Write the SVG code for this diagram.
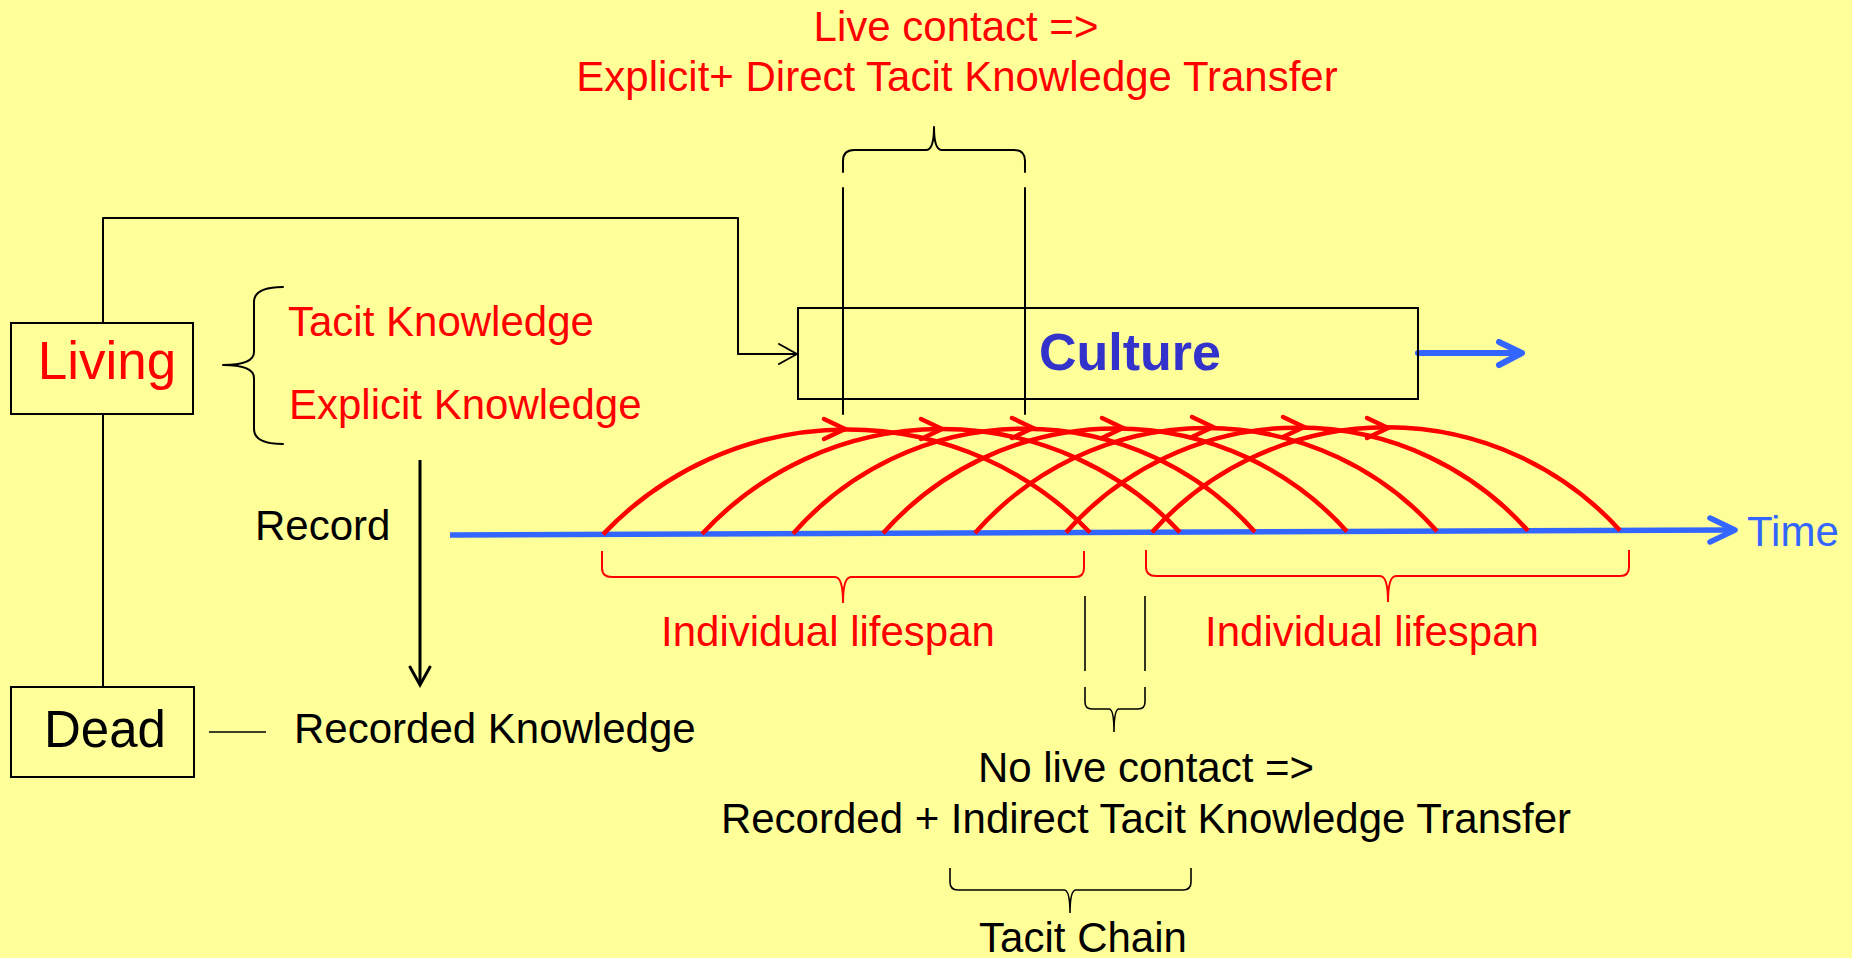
<svg xmlns="http://www.w3.org/2000/svg" xmlns:xlink="http://www.w3.org/1999/xlink" width="1852" height="958" viewBox="0 0 1852 958">
<style>
text{font-family:"Liberation Sans",Arial,sans-serif;font-size:42px}
.red{fill:#FF0000}
.blk{fill:#000000}
.box{fill:none;stroke:#000;stroke-width:2}
.ln{fill:none;stroke:#000;stroke-width:2;stroke-linecap:round;stroke-linejoin:round}
.thin{fill:none;stroke:#000;stroke-width:1.6}
.rbrace{fill:none;stroke:#FF0000;stroke-width:2}
.arc{fill:none;stroke:#FF0000;stroke-width:4.5;stroke-linecap:butt}
.chev{fill:none;stroke:#FF0000;stroke-width:4.5;stroke-linecap:round;stroke-linejoin:miter}
.blue{fill:none;stroke:#3366FF;stroke-width:6;stroke-linecap:round;stroke-linejoin:round}
</style>
<defs>
<path id="chevron" d="M-21,-10 L0,0 L-21,10"/>
</defs>
<rect x="0" y="0" width="1852" height="958" fill="#FFFF99"/>

<g id="connectors">
  <polyline class="ln" points="103,323 103,218 738,218 738,354 797,354"/>
  <polyline class="ln" points="779,344 797,354 779,364"/>
  <line class="ln" x1="103" y1="414" x2="103" y2="687"/>
  <line x1="420" y1="460" x2="420" y2="684" stroke="#000" stroke-width="3"/>
  <polyline points="410,667 420,685 430,667" fill="none" stroke="#000" stroke-width="3" stroke-linecap="round"/>
  <line class="thin" x1="209" y1="732" x2="266" y2="732"/>
  <line class="blue" x1="1418" y1="353" x2="1520" y2="353"/>
  <polyline class="blue" points="1499,342 1522,353 1499,365"/>
</g>

<g id="living-node">
  <rect class="box" x="11" y="323" width="182" height="91"/>
  <text class="red" x="107" y="379" font-size="53" text-anchor="middle" style="font-size:53px">Living</text>
</g>

<g id="dead-node">
  <rect class="box" x="11" y="687" width="183" height="90"/>
  <text class="blk" x="105" y="747" text-anchor="middle" style="font-size:51px">Dead</text>
</g>

<g id="knowledge-brace">
  <path class="ln" d="M283,287 Q254,287 254,302 L254,352 Q254,365 223,365 Q254,365 254,378 L254,429 Q254,444 283,444"/>
  <text class="red" x="288" y="336">Tacit Knowledge</text>
  <text class="red" x="289" y="419">Explicit Knowledge</text>
</g>

<g id="record-label">
  <text class="blk" x="255" y="540">Record</text>
</g>

<g id="recorded-knowledge">
  <text class="blk" x="294" y="743">Recorded Knowledge</text>
</g>

<g id="culture-node">
  <rect class="box" x="798" y="308" width="620" height="91"/>
  <text x="1039" y="370" font-weight="bold" fill="#3333CC" style="font-size:52px">Culture</text>
</g>

<g id="time-axis">
  <line class="blue" x1="450" y1="535" x2="1732" y2="530" style="stroke-width:5.5;stroke-linecap:butt"/>
  <polyline class="blue" points="1710,518 1735,530 1710,542" style="stroke-width:5.5"/>
  <text x="1747" y="546" fill="#3366FF">Time</text>
</g>

<g id="lifespans">
  <path class="arc" d="M603,534.4 A337,337 0 0 1 1090,532.5"/>
  <path class="arc" d="M702,534 A326.6,326.6 0 0 1 1180,532.2"/>
  <path class="arc" d="M793,533.7 A308.4,308.4 0 0 1 1255,531.9"/>
  <path class="arc" d="M883,533.3 A310.8,310.8 0 0 1 1347,531.5"/>
  <path class="arc" d="M975,533 A308.4,308.4 0 0 1 1437,531.2"/>
  <path class="arc" d="M1066,532.6 A308.4,308.4 0 0 1 1528,530.8"/>
  <path class="arc" d="M1152,532.3 A315.3,315.3 0 0 1 1620,530.4"/>
  <use xlink:href="#chevron" class="chev" x="845" y="429"/>
  <use xlink:href="#chevron" class="chev" x="942" y="429"/>
  <use xlink:href="#chevron" class="chev" x="1033" y="428"/>
  <use xlink:href="#chevron" class="chev" x="1123" y="428"/>
  <use xlink:href="#chevron" class="chev" x="1213" y="427"/>
  <use xlink:href="#chevron" class="chev" x="1304" y="427"/>
  <use xlink:href="#chevron" class="chev" x="1388" y="428"/>
</g>

<g id="live-contact">
  <path class="ln" d="M843,172 L843,161 Q843,150 854,150 L926,150 Q934,150 934,127 Q934,150 942,150 L1014,150 Q1025,150 1025,161 L1025,172"/>
  <line class="ln" x1="843" y1="188" x2="843" y2="414"/>
  <line class="ln" x1="1025" y1="188" x2="1025" y2="414"/>
  <text class="red" x="956" y="41" text-anchor="middle">Live contact =&gt;</text>
  <text class="red" x="957" y="91" text-anchor="middle">Explicit+ Direct Tacit Knowledge Transfer</text>
</g>

<g id="lifespan-left">
  <path class="rbrace" d="M602,551 L602,568 Q602,577 612,577 L835,577 Q843,577 843,603 Q843,577 851,577 L1075,577 Q1084,577 1084,568 L1084,551"/>
  <text class="red" x="828" y="646" text-anchor="middle">Individual lifespan</text>
</g>

<g id="lifespan-right">
  <path class="rbrace" d="M1146,550 L1146,567 Q1146,576 1156,576 L1380,576 Q1388,576 1388,602 Q1388,576 1396,576 L1620,576 Q1629,576 1629,567 L1629,550"/>
  <text class="red" x="1372" y="646" text-anchor="middle">Individual lifespan</text>
</g>

<g id="no-live-contact">
  <line class="thin" x1="1085" y1="596" x2="1085" y2="671"/>
  <line class="thin" x1="1145" y1="596" x2="1145" y2="671"/>
  <path class="thin" d="M1085,687 L1085,702 Q1085,709 1092,709 L1109,709 Q1114,709 1114,732 Q1114,709 1119,709 L1138,709 Q1145,709 1145,702 L1145,687"/>
  <text class="blk" x="1146" y="782" text-anchor="middle">No live contact =&gt;</text>
  <text class="blk" x="1146" y="833" text-anchor="middle">Recorded + Indirect Tacit Knowledge Transfer</text>
</g>

<g id="tacit-chain">
  <path class="thin" d="M950,868 L950,882 Q950,890 958,890 L1064,890 Q1070,890 1070,913 Q1070,890 1076,890 L1183,890 Q1191,890 1191,882 L1191,868"/>
  <text class="blk" x="1083" y="952" text-anchor="middle">Tacit Chain</text>
</g>
</svg>
